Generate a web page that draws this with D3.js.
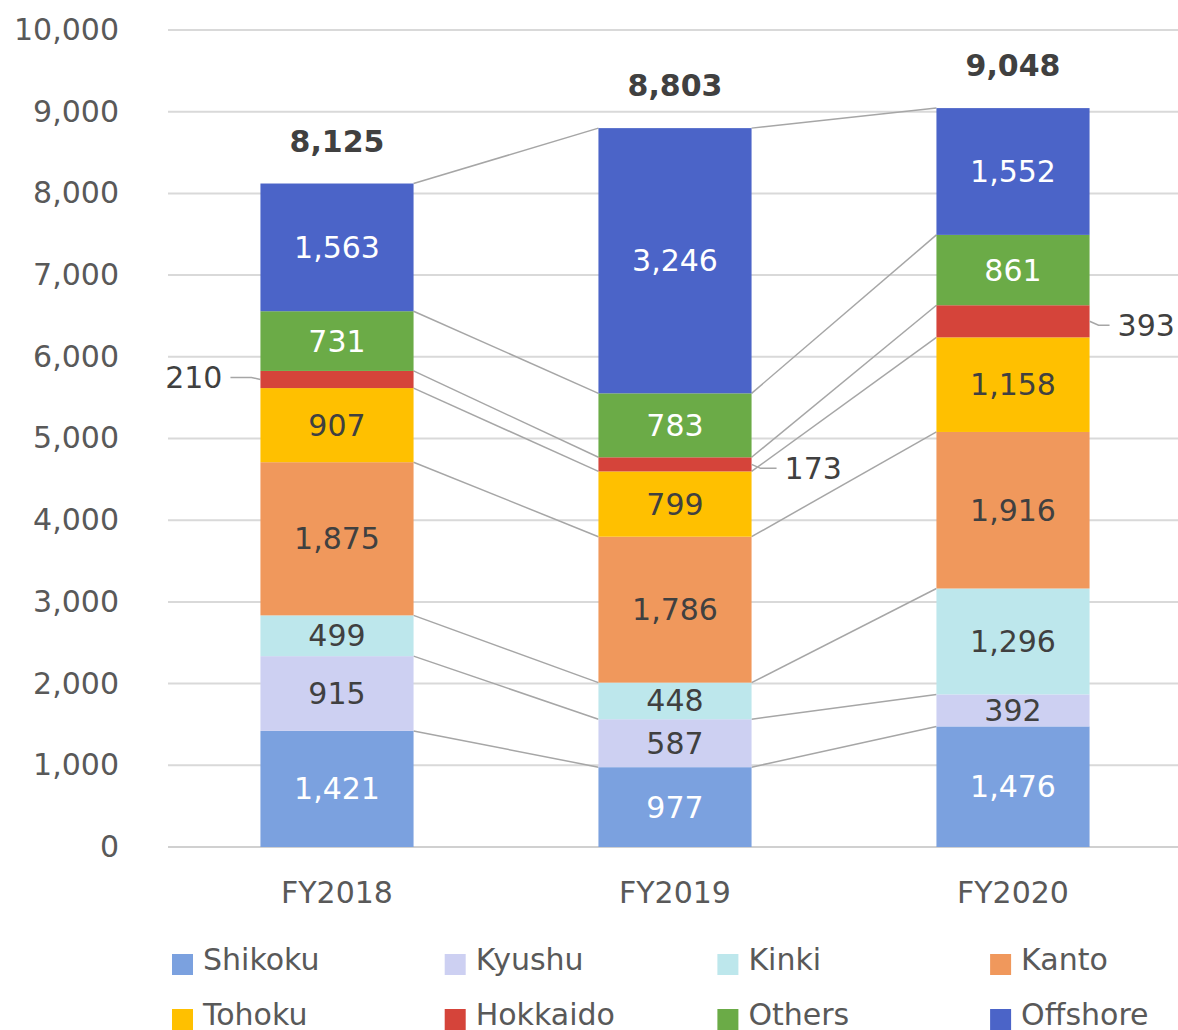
<!DOCTYPE html>
<html>
<head>
<meta charset="utf-8">
<script src="https://cdn.jsdelivr.net/npm/d3@7"></script>
<style>
  body { margin: 0; background: #fff; }
  svg { display: block; font-family: "DejaVu Sans", Verdana, sans-serif; }
</style>
</head>
<body>
<script>
// values
const years = ["FY2018", "FY2019", "FY2020"];
const regions = ["Shikoku", "Kyushu", "Kinki", "Kanto", "Tohoku", "Hokkaido", "Others", "Offshore"];
const colors = ["#7ba1df", "#cdd0f2", "#bde7ec", "#f0985c", "#ffc000", "#d5443a", "#6bab47", "#4b64c8"];
const labelColors = ["#fff", "#404040", "#404040", "#404040", "#404040", "#404040", "#fff", "#fff"];
const shikoku = [1421, 977, 1476];
const kyushu = [915, 587, 392];
const kinki = [499, 448, 1296];
const kanto = [1875, 1786, 1916];
const tohoku = [907, 799, 1158];
const hokkaido = [210, 173, 393];
const others = [731, 783, 861];
const offshore = [1563, 3246, 1552];
const totals = [8125, 8803, 9048];
const yTicks = [0, 1000, 2000, 3000, 4000, 5000, 6000, 7000, 8000, 9000, 10000];

const seriesValues = [shikoku, kyushu, kinki, kanto, tohoku, hokkaido, others, offshore];
const table = years.map((yr, i) => {
    const row = {year: yr};
    regions.forEach((r, k) => { row[r] = seriesValues[k][i]; });
    return row;
});
const stacked = d3.stack().keys(regions)(table);

const W = 1178, H = 1030;
const svg = d3.select("body").append("svg")
    .attr("width", W)
    .attr("height", H);

const x = d3.scaleBand().domain(years).range([168, 1182])
    .paddingInner(0.547).paddingOuter(0.2735);
const y = d3.scaleLinear().domain([0, 10000]).range([847, 30]);
const bw = x.bandwidth();

// gridlines
svg.append("g").selectAll("line")
    .data(yTicks)
    .join("line")
        .attr("x1", 168).attr("x2", W)
        .attr("y1", d => y(d)).attr("y2", d => y(d))
        .attr("stroke", d => d === 0 ? "#d0d0d0" : "#d9d9d9")
        .attr("stroke-width", 2);

// y tick labels
svg.append("g").selectAll("text")
    .data(yTicks)
    .join("text")
        .attr("x", 119)
        .attr("y", d => y(d))
        .attr("dy", "0.33em")
        .attr("text-anchor", "end")
        .attr("font-size", 30)
        .attr("fill", "#595959")
        .text(d => d3.format(",")(d));

// connector lines between bars
const conn = svg.append("g");
stacked.forEach(s => {
    for (let i = 0; i < years.length - 1; i++) {
        conn.append("line")
            .attr("x1", x(years[i]) + bw)
            .attr("y1", y(s[i][1]))
            .attr("x2", x(years[i + 1]))
            .attr("y2", y(s[i + 1][1]))
            .attr("stroke", "#a6a6a6")
            .attr("stroke-width", 1.5);
    }
});

// bars
const layer = svg.append("g").selectAll("g")
    .data(stacked)
    .join("g")
        .attr("fill", (d, k) => colors[k]);
layer.selectAll("rect")
    .data(d => d)
    .join("rect")
        .attr("x", d => x(d.data.year))
        .attr("width", bw)
        .attr("y", d => y(d[1]))
        .attr("height", d => y(d[0]) - y(d[1]));

// segment labels (Hokkaido gets callouts)
stacked.forEach((s, k) => {
    if (regions[k] === "Hokkaido") return;
    svg.append("g").selectAll("text")
        .data(s)
        .join("text")
            .attr("x", d => x(d.data.year) + bw / 2)
            .attr("y", d => y((d[0] + d[1]) / 2))
            .attr("dy", "0.35em")
            .attr("text-anchor", "middle")
            .attr("font-size", 30)
            .attr("fill", labelColors[k])
            .text(d => d3.format(",")(d[1] - d[0]));
});

const hk = stacked[regions.indexOf("Hokkaido")];
const callout = svg.append("g");
hk.forEach((d, i) => {
    const mid = y((d[0] + d[1]) / 2);
    const left = i === 0;
    const edge = left ? x(d.data.year) : x(d.data.year) + bw;
    const dir = left ? -1 : 1;
    const ly = left ? mid - 2 : mid + 4;
    const gap = left ? 38 : (i === 1 ? 33 : 28);
    callout.append("polyline")
        .attr("points", [[edge, mid], [edge + dir * 9, ly], [edge + dir * (gap - 8), ly]].map(p => p.join(",")).join(" "))
        .attr("fill", "none")
        .attr("stroke", "#a6a6a6")
        .attr("stroke-width", 1.5);
    callout.append("text")
        .attr("x", edge + dir * gap)
        .attr("y", ly)
        .attr("dy", "0.35em")
        .attr("text-anchor", left ? "end" : "start")
        .attr("font-size", 30)
        .attr("fill", "#404040")
        .text(d3.format(",")(d[1] - d[0]));
});

// totals
svg.append("g").selectAll("text")
    .data(totals)
    .join("text")
        .attr("x", (d, i) => x(years[i]) + bw / 2)
        .attr("y", (d, i) => y(stacked[stacked.length - 1][i][1]) - 32)
        .attr("text-anchor", "middle")
        .attr("font-size", 30)
        .attr("font-weight", "bold")
        .attr("fill", "#404040")
        .text(d => d3.format(",")(d));

// x axis labels
svg.append("g").selectAll("text")
    .data(years)
    .join("text")
        .attr("x", d => x(d) + bw / 2)
        .attr("y", 903)
        .attr("text-anchor", "middle")
        .attr("font-size", 30)
        .attr("fill", "#595959")
        .text(d => d);

// legend
const legend = svg.append("g").selectAll("g")
    .data(regions)
    .join("g")
        .attr("transform", (d, k) => `translate(${172 + (k % 4) * 272.7}, ${954 + Math.floor(k / 4) * 55})`);
legend.append("rect")
    .attr("width", 21).attr("height", 21)
    .attr("fill", (d, k) => colors[k]);
legend.append("text")
    .attr("x", 31)
    .attr("y", 16)
    .attr("font-size", 30)
    .attr("fill", "#595959")
    .text(d => d);
</script>
</body>
</html>
